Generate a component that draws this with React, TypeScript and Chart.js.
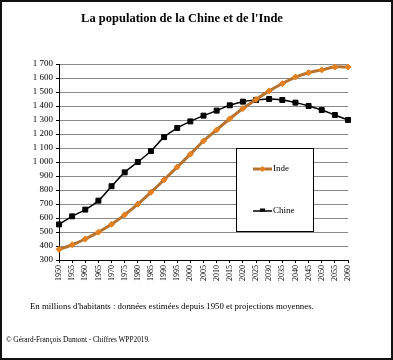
import React, { useEffect, useRef } from "react";
import { Chart, registerables } from "chart.js";

Chart.register(...registerables);

const TITLE = "La population de la Chine et de l'Inde";
const NOTE = "En millions d'habitants : données estimées depuis 1950 et projections moyennes.";
const SOURCE = "© Gérard-François Dumont - Chiffres WPP2019.";

const years = [
  "1950", "1955", "1960", "1965", "1970", "1975", "1980", "1985", "1990", "1995", "2000",
  "2005", "2010", "2015", "2020", "2025", "2030", "2035", "2040", "2045", "2050", "2055", "2060",
];
const inde = [
  376, 409, 450, 499, 555, 623, 699, 784, 873, 964, 1056,
  1150, 1229, 1309, 1382, 1447, 1508, 1560, 1607, 1638, 1658, 1678, 1678,
];
const chine = [
  554, 612, 660, 724, 827, 926, 1000, 1078, 1178, 1243, 1290,
  1331, 1367, 1405, 1431, 1443, 1450, 1443, 1424, 1400, 1371, 1336, 1300,
];
const yMin = 300;
const yMax = 1700;
const yStep = 100;

const INDE_LINE = "#B8732F";
const INDE_POINT = "#E5801F";
const CHINE = "#000000";

function fmt(v: number): string {
  if (v >= 1000) {
    return Math.floor(v / 1000) + " " + String(v % 1000).padStart(3, "0");
  }
  return String(v);
}

const legendBox = {
  id: "legendBox",
  afterDraw(chart: any, _args: any, opts: any) {
    const ctx = chart.ctx;
    ctx.save();
    ctx.fillStyle = "#ffffff";
    ctx.fillRect(opts.x, opts.y, opts.w, opts.h);
    ctx.strokeStyle = "#000";
    ctx.lineWidth = 1;
    ctx.strokeRect(opts.x + 0.5, opts.y + 0.5, opts.w, opts.h);
    chart.data.datasets.forEach((ds: any, i: number) => {
      const y = opts.itemY[i];
      ctx.strokeStyle = ds.borderColor;
      ctx.lineWidth = ds.borderWidth;
      ctx.beginPath();
      ctx.moveTo(opts.lineX, y);
      ctx.lineTo(opts.lineX + opts.lineW, y);
      ctx.stroke();
      ctx.fillStyle = ds.pointBackgroundColor;
      ctx.strokeStyle = ds.pointBorderColor;
      ctx.lineWidth = 1;
      const cx = opts.lineX + opts.lineW / 2;
      if (ds.pointStyle === "rect") {
        ctx.fillRect(cx - 2.5, y - 2.5, 5, 3);
      } else {
        ctx.beginPath();
        ctx.moveTo(cx, y - 3);
        ctx.lineTo(cx + 3, y);
        ctx.lineTo(cx, y + 3);
        ctx.lineTo(cx - 3, y);
        ctx.closePath();
        ctx.fill();
      }
      ctx.fillStyle = "#000";
      ctx.font = "9px 'Liberation Serif'";
      ctx.textBaseline = "middle";
      ctx.textAlign = "left";
      ctx.fillText(ds.label, opts.lineX + opts.lineW + 1, y);
    });
    ctx.restore();
  },
};

export default function App() {
  const ref = useRef<HTMLCanvasElement>(null);
  useEffect(() => {
    if (!ref.current) return;
    Chart.defaults.font.family = "'Liberation Serif', serif";
    Chart.defaults.color = "#000";
    const chart = new Chart(ref.current, {
      type: "line",
      data: {
        labels: years,
        datasets: [
          {
            label: "Inde",
            data: inde,
            borderColor: INDE_LINE,
            borderWidth: 3,
            pointStyle: "rectRot",
            pointRadius: 3,
            pointBackgroundColor: INDE_POINT,
            pointBorderColor: INDE_POINT,
            pointBorderWidth: 1,
            tension: 0.4,
            fill: false,
          } as any,
          {
            label: "Chine",
            data: chine,
            borderColor: CHINE,
            borderWidth: 1.5,
            pointStyle: "rect",
            pointRadius: 3.5,
            pointBackgroundColor: CHINE,
            pointBorderColor: CHINE,
            pointBorderWidth: 1,
            tension: 0.4,
            fill: false,
          } as any,
        ],
      },
      options: {
        animation: false,
        responsive: false,
        maintainAspectRatio: false,
        layout: { padding: { top: 64, left: 0, right: 45, bottom: 0 } },
        plugins: {
          legend: { display: false },
          tooltip: { enabled: false },
          title: { display: false },
          legendBox: {
            x: 236,
            y: 148,
            w: 77,
            h: 83,
            lineX: 253,
            lineW: 19,
            itemY: [169, 211],
          },
        } as any,
        scales: {
          x: {
            type: "category",
            offset: false,
            afterFit: (s: any) => {
              s.height = 100;
            },
            border: { display: true, color: "#000", width: 1 },
            grid: {
              display: true,
              drawOnChartArea: false,
              drawTicks: true,
              tickLength: 3,
              color: "#000",
            },
            ticks: {
              autoSkip: false,
              maxRotation: 90,
              minRotation: 90,
              padding: 2,
              font: { size: 8 },
              color: "#000",
            },
          },
          y: {
            min: yMin,
            max: yMax,
            afterFit: (s: any) => {
              s.width = 59;
            },
            border: { display: true, color: "#000", width: 1 },
            grid: {
              color: "#8a8a8a",
              tickColor: "#000",
              drawTicks: true,
              tickLength: 3,
            },
            ticks: {
              stepSize: yStep,
              padding: 3,
              font: { size: 9 },
              color: "#000",
              callback: (v: any) => fmt(Number(v)),
            },
          },
        },
      },
      plugins: [legendBox],
    });
    return () => chart.destroy();
  }, []);

  return (
    <div
      style={{
        position: "absolute",
        left: 0,
        top: 0,
        width: 393,
        height: 360,
        background: "#fff",
        fontFamily: "'Liberation Serif', serif",
        color: "#000",
      }}
    >
      <canvas
        ref={ref}
        width={393}
        height={360}
        style={{ position: "absolute", left: 0, top: 0, width: 393, height: 360 }}
      />
      <div
        style={{
          position: "absolute",
          left: 0,
          width: 364,
          top: 10,
          textAlign: "center",
          fontWeight: "bold",
          fontSize: 12.5,
          lineHeight: "16px",
          whiteSpace: "nowrap",
        }}
      >
        {TITLE}
      </div>
      <div
        style={{
          position: "absolute",
          left: 30,
          top: 300,
          fontSize: 8.8,
          lineHeight: "12px",
          whiteSpace: "nowrap",
        }}
      >
        {NOTE}
      </div>
      <div
        style={{
          position: "absolute",
          left: 6,
          top: 335,
          fontSize: 7.3,
          lineHeight: "10px",
          whiteSpace: "nowrap",
        }}
      >
        {SOURCE}
      </div>
      <div
        style={{
          position: "absolute",
          left: 0,
          top: 0,
          width: 393,
          height: 360,
          boxSizing: "border-box",
          border: "2px solid #111",
          pointerEvents: "none",
        }}
      />
    </div>
  );
}
